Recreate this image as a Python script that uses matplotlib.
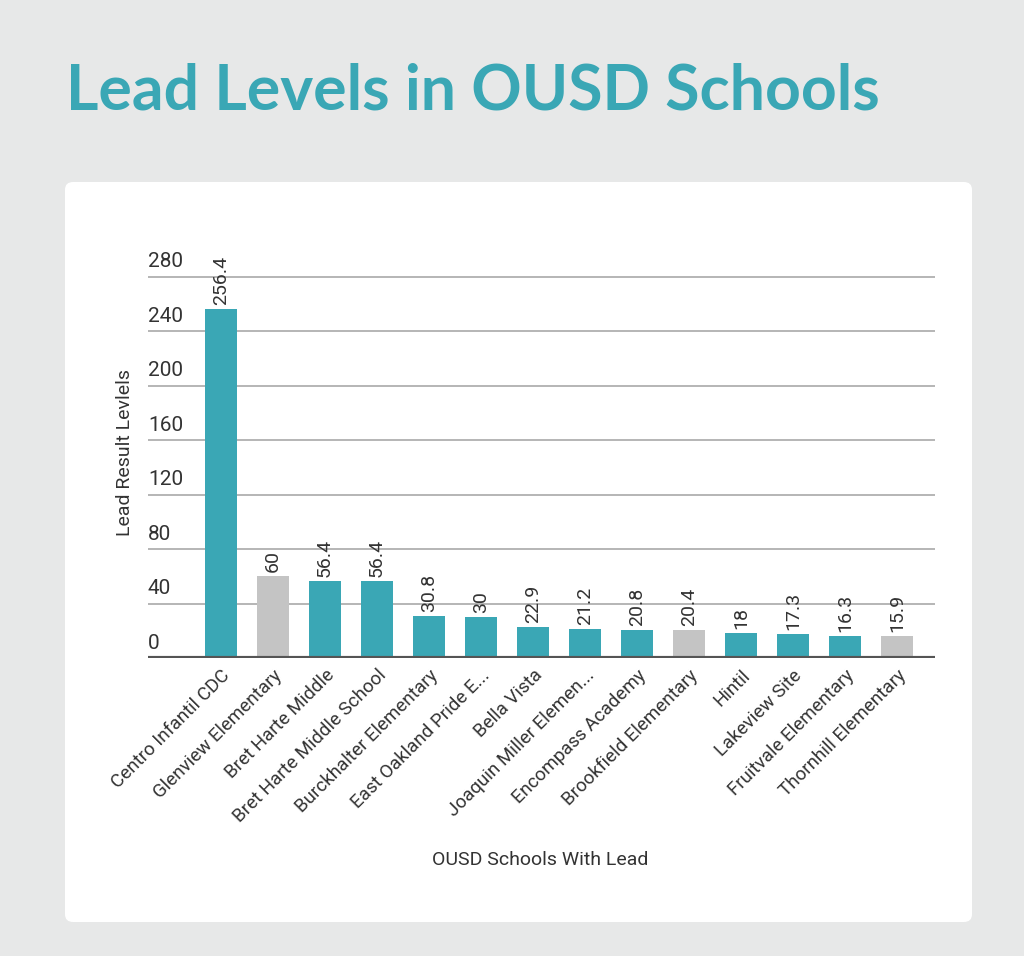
import matplotlib
matplotlib.use("Agg")
import matplotlib.pyplot as plt
from matplotlib.patches import FancyBboxPatch
import numpy as np

schools = [
    "Centro Infantil CDC", "Glenview Elementary", "Bret Harte Middle",
    "Bret Harte Middle School", "Burckhalter Elementary", "East Oakland Pride E...",
    "Bella Vista", "Joaquin Miller Elemen...", "Encompass Academy",
    "Brookfield Elementary", "Hintil", "Lakeview Site",
    "Fruitvale Elementary", "Thornhill Elementary",
]
lead_levels = [256.4, 60, 56.4, 56.4, 30.8, 30, 22.9, 21.2, 20.8, 20.4, 18, 17.3, 16.3, 15.9]
value_labels = ["256.4", "60", "56.4", "56.4", "30.8", "30", "22.9", "21.2",
                "20.8", "20.4", "18", "17.3", "16.3", "15.9"]
grey_schools = ["Glenview Elementary", "Brookfield Elementary", "Thornhill Elementary"]
y_ticks = [0, 40, 80, 120, 160, 200, 240, 280]

TEAL = "#3aa7b5"
GREY = "#c4c4c4"
BG = "#e7e8e8"
TEXT = "#333333"

plt.rcParams['font.family'] = ['Roboto', 'DejaVu Sans']

W, H = 1024, 956
fig = plt.figure(figsize=(W / 100, H / 100), dpi=100)
fig.patch.set_facecolor(BG)

# white card behind the chart
card = FancyBboxPatch((65 / W, 1 - 922 / H), (972 - 65) / W, (922 - 182) / H,
                      boxstyle="round,pad=0,rounding_size=0.008",
                      transform=fig.transFigure, facecolor="white", edgecolor="none",
                      zorder=-5)
fig.patches.append(card)

fig.text(66 / W, 1 - 91 / H, "Lead Levels in OUSD Schools", color=TEAL,
         fontsize=45, fontweight="bold", family=["Lato", "DejaVu Sans"],
         ha="left", va="center")

# axes: left at 148px, baseline 658px, 54.5px per 40 units
ymax = 285
px_per_unit = 54.5 / 40
ax = fig.add_axes([148 / W, 1 - 658 / H, (935 - 148) / W, ymax * px_per_unit / H])
ax.set_zorder(2)

x = np.arange(len(schools))
colors = [GREY if s in grey_schools else TEAL for s in schools]
ax.bar(x, lead_levels, width=0.62, color=colors, zorder=3)

ax.set_xlim(-1.404, 13.73)
ax.set_ylim(0, ymax)

for v in y_ticks[1:]:
    ax.axhline(v, color="#b0b0b0", linewidth=1.3, zorder=1)
ax.axhline(0, color="#555555", linewidth=3, zorder=4)

for v in y_ticks:
    ax.text(0.0, v + 4, str(v), transform=ax.get_yaxis_transform(),
            ha="left", va="bottom", fontsize=15, color=TEXT)

for xi, v, lab in zip(x, lead_levels, value_labels):
    ax.text(xi, v + 3, lab, rotation=90, ha="center", va="bottom",
            fontsize=14, color=TEXT, zorder=5)

ax.set_yticks([])
ax.set_xticks(x)
ax.set_xticklabels(schools, rotation=45, ha="right", rotation_mode="anchor",
                   fontsize=13.5, color=TEXT)
ax.tick_params(axis="x", length=0, pad=6)
for sp in ax.spines.values():
    sp.set_visible(False)
ax.set_facecolor("none")

fig.text(125 / W, 1 - 452 / H, "Lead Result Levlels", rotation=90,
         ha="center", va="center", fontsize=14, color=TEXT)
fig.text(540 / W, 1 - 860 / H, "OUSD Schools With Lead",
         ha="center", va="center", fontsize=14, color=TEXT)

fig.savefig("out.png", dpi=100, facecolor=BG)
